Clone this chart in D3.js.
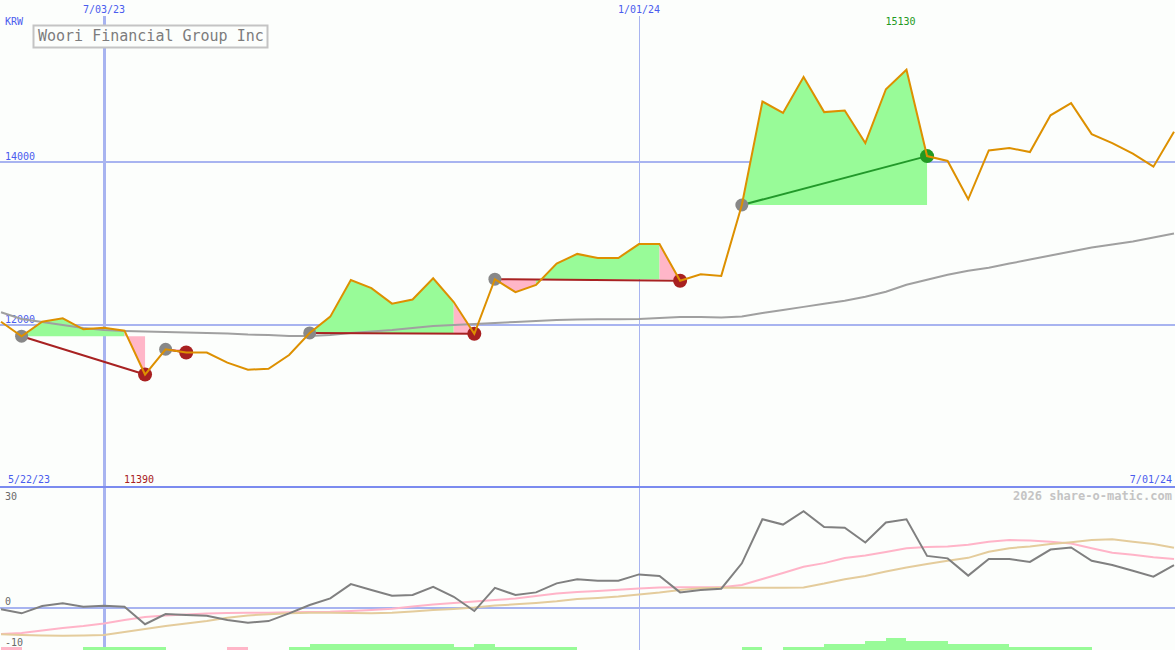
<!DOCTYPE html>
<html><head><meta charset="utf-8">
<script src="https://cdn.jsdelivr.net/npm/d3@7"></script>
<style>
html,body{margin:0;padding:0;background:#fcfefc;}
svg{display:block;}
text{font-family:"DejaVu Sans Mono","Liberation Mono",monospace;}
</style>
</head><body>
<svg id="chart" width="1175" height="650"></svg>
<script>
// ---------- DATA ----------
const dates = ["2023-05-29","2023-06-05","2023-06-12","2023-06-19","2023-06-26","2023-07-03","2023-07-10","2023-07-17","2023-07-24","2023-07-31",
"2023-08-07","2023-08-14","2023-08-21","2023-08-28","2023-09-04","2023-09-11","2023-09-18","2023-09-25","2023-10-02","2023-10-09",
"2023-10-16","2023-10-23","2023-10-30","2023-11-06","2023-11-13","2023-11-20","2023-11-27","2023-12-04","2023-12-11","2023-12-18",
"2023-12-25","2024-01-01","2024-01-08","2024-01-15","2024-01-22","2024-01-29","2024-02-05","2024-02-12","2024-02-19","2024-02-26",
"2024-03-04","2024-03-11","2024-03-18","2024-03-25","2024-04-01","2024-04-08","2024-04-15","2024-04-22","2024-04-29","2024-05-06",
"2024-05-13","2024-05-20","2024-05-27","2024-06-03","2024-06-10","2024-06-17","2024-06-24","2024-07-01"];

const closePrice = [12038,11860,12038,12080,11945,11964,11928,11390,11700,11660,
11660,11535,11450,11460,11630,11900,12100,12550,12450,12260,
12310,12570,12280,11890,12560,12400,12490,12750,12870,12820,
12820,12990,12990,12540,12620,12600,13470,14740,14600,15040,
14610,14630,14230,14890,15130,14070,14010,13540,14140,14170,
14120,14570,14720,14340,14230,14100,13940,14370];

const movingAvg = [12154,12072,12035,11998,11961,11936,11924,11917,11911,11905,
11899,11893,11880,11874,11862,11862,11874,11899,11917,11936,
11961,11985,11998,12010,12022,12035,12047,12059,12066,12068,
12068,12072,12084,12096,12096,12090,12103,12146,12183,12220,
12257,12294,12343,12405,12491,12553,12615,12664,12701,12751,
12800,12850,12899,12948,12985,13022,13072,13121];

const oscMain = [-0.45,-1.6,0.5,1.25,0.3,0.55,0.3,-4.7,-1.8,-2.1,
-2.3,-3.5,-4.25,-3.8,-1.6,0.75,2.65,6.7,5.0,3.4,
3.6,5.95,3.1,-0.95,5.65,3.6,4.35,6.9,8.05,7.65,
7.65,9.45,9.0,4.35,5.0,5.4,12.6,25.1,23.6,27.4,
22.9,22.7,18.5,24.2,25.1,14.7,14.0,9.1,13.8,13.8,
13.0,16.5,17.1,13.3,12.1,10.5,8.8,12.1];

const oscFast = [-7.45,-7.2,-6.45,-5.75,-5.2,-4.5,-3.5,-2.65,-2.2,-1.9,
-1.65,-1.5,-1.4,-1.4,-1.3,-1.2,-1.15,-0.95,-0.65,-0.3,
0.35,0.9,1.35,1.75,2.2,2.6,3.3,4.0,4.45,4.75,
5.1,5.45,5.7,5.8,5.8,5.8,6.45,8.15,9.85,11.6,
12.65,14.1,14.8,15.8,16.9,17.2,17.4,17.9,18.75,19.2,
19.1,18.75,18.2,16.9,15.6,15.05,14.35,13.8];

const oscSlow = [-7.55,-7.75,-7.9,-7.95,-7.9,-7.75,-6.9,-6.05,-5.2,-4.5,
-3.75,-2.85,-2.2,-1.85,-1.55,-1.4,-1.4,-1.5,-1.55,-1.45,
-1.1,-0.65,-0.35,0.05,0.6,0.95,1.35,1.8,2.45,2.75,
3.15,3.75,4.3,5.0,5.5,5.65,5.65,5.65,5.65,5.75,
6.85,8.1,9.0,10.25,11.4,12.4,13.35,14.15,15.9,16.9,
17.4,18.05,18.6,19.2,19.4,18.75,18.05,17.0];

const histLevel = [-1,0,0,0,1,1,1,1,0,0,
0,-1,0,0,1,2,2,2,2,2,
2,2,1,2,1,1,1,1,0,0,
0,0,0,0,0,0,1,0,1,1,
2,2,3,4,3,3,2,2,2,1,
1,1,1,0,0,0,0,0];

// trades: entry and exit week (indices into dates)
const tradeEntry = [1, 8, 15, 24, 36];
const tradeExit  = [7, 9, 23, 33, 45];

const priceTicks = [12000, 14000];
const dateTicks = ["2023-07-03", "2024-01-01"];
const dateTickWidth = [3, 1];
const oscTicks = [30, 0, -10];
const startLabel = "5/22/23";
const endLabel = "7/01/24";
const currency = "KRW";
const title = "Woori Financial Group Inc";
const watermark = "2026 share-o-matic.com";

// ---------- SETUP ----------
const W = 1175, H = 650;
const parse = d3.utcParse("%Y-%m-%d");
const fmt = d3.utcFormat("%-m/%d/%y");
const D = dates.map(parse);
const svg = d3.select("#chart");

const x = d3.scaleUtc().domain([D[0], D[D.length - 1]]).range([1, 1174]);
const y = d3.scaleLinear().domain([12000, 14000]).range([324.8, 161.8]);
const yo = d3.scaleLinear().domain([0, 30]).range([607.7, 502]);
const hh = d3.scaleLinear().domain([0, 4]).range([0, 12.4]);

const blueGrid = "#a8b4f0", blueText = "#4a5cee", sep = "#7b8bef";

svg.append("rect").attr("width", W).attr("height", H).attr("fill", "#fcfefc");

// vertical date grid
const vg = svg.append("g");
dateTicks.forEach((d, i) => {
  const xx = Math.round(x(parse(d)));
  vg.append("line").attr("x1", xx).attr("x2", xx).attr("y1", 16).attr("y2", H)
    .attr("stroke", blueGrid).attr("stroke-width", dateTickWidth[i]).attr("shape-rendering", "crispEdges");
  vg.append("text").attr("x", xx).attr("y", 13).attr("text-anchor", "middle")
    .attr("font-size", 10).attr("fill", blueText).text(fmt(parse(d)));
});

// horizontal price grid
priceTicks.forEach(p => {
  svg.append("line").attr("x1", 0).attr("x2", W).attr("y1", y(p)).attr("y2", y(p))
    .attr("stroke", blueGrid).attr("stroke-width", 2).attr("shape-rendering", "crispEdges");
  svg.append("text").attr("x", 5).attr("y", y(p) - 2).attr("font-size", 10)
    .attr("fill", blueText).text(p);
});
svg.append("text").attr("x", 5).attr("y", 25).attr("font-size", 10).attr("fill", blueText).text(currency);

// ---------- TRADE FILLS (runs of same colour merged) ----------
const fills = svg.append("g");
tradeEntry.forEach((e, t) => {
  const base = closePrice[e];
  let runStart = e, runUp = closePrice[e + 1] >= base;
  const flush = (a, b, up) => {
    const pts = [[x(D[a]), y(base)]];
    for (let k = a; k <= b; k++) pts.push([x(D[k]), y(closePrice[k])]);
    pts.push([x(D[b]), y(base)]);
    fills.append("path").attr("d", d3.line()(pts) + "Z")
      .attr("fill", up ? "#98fb98" : "#ffb6c8").attr("stroke", "none");
  };
  for (let i = e; i < tradeExit[t]; i++) {
    const up = closePrice[i + 1] >= base;
    if (up !== runUp) { flush(runStart, i, runUp); runStart = i; runUp = up; }
  }
  flush(runStart, tradeExit[t], runUp);
});

// moving average
svg.append("path").datum(movingAvg)
  .attr("d", d3.line().x((d, i) => x(D[i])).y(d => y(d)))
  .attr("fill", "none").attr("stroke", "#a0a0a0").attr("stroke-width", 2);

// trade lines
tradeEntry.forEach((e, t) => {
  const ex = tradeExit[t];
  const win = closePrice[ex] > closePrice[e];
  svg.append("line").attr("x1", x(D[e])).attr("y1", y(closePrice[e]))
    .attr("x2", x(D[ex])).attr("y2", y(closePrice[ex]))
    .attr("stroke", win ? "#22992a" : "#a82222").attr("stroke-width", 2);
});
// dots
tradeEntry.forEach((e, t) => {
  const ex = tradeExit[t];
  const win = closePrice[ex] > closePrice[e];
  svg.append("circle").attr("cx", x(D[e])).attr("cy", y(closePrice[e])).attr("r", 6.5).attr("fill", "#888888");
  svg.append("circle").attr("cx", x(D[ex])).attr("cy", y(closePrice[ex])).attr("r", 7)
    .attr("fill", win ? "#229922" : "#a82020");
});

// price line
svg.append("path").datum(closePrice)
  .attr("d", d3.line().x((d, i) => x(D[i])).y(d => y(d)))
  .attr("fill", "none").attr("stroke", "#dd9000").attr("stroke-width", 2).attr("stroke-linejoin", "miter");

// min / max labels
const iMax = d3.maxIndex(closePrice), iMin = d3.minIndex(closePrice);
svg.append("text").attr("x", x(D[iMax]) - 6).attr("y", 25).attr("text-anchor", "middle")
  .attr("font-size", 10).attr("fill", "#229922").text(closePrice[iMax]);
svg.append("text").attr("x", x(D[iMin]) - 6).attr("y", 483).attr("text-anchor", "middle")
  .attr("font-size", 10).attr("fill", "#a82020").text(closePrice[iMin]);

// title box
svg.append("rect").attr("x", 33.5).attr("y", 25.5).attr("width", 234).attr("height", 22)
  .attr("fill", "#fcfefc").attr("stroke", "#c4c4c4").attr("stroke-width", 2);
svg.append("text").attr("x", 38).attr("y", 41).attr("font-size", 15).attr("fill", "#7c7c7c").text(title);

// ---------- LOWER PANEL ----------
svg.append("line").attr("x1", 0).attr("x2", W).attr("y1", 487).attr("y2", 487)
  .attr("stroke", sep).attr("stroke-width", 2).attr("shape-rendering", "crispEdges");
svg.append("text").attr("x", 8).attr("y", 483).attr("font-size", 10).attr("fill", blueText).text(startLabel);
svg.append("text").attr("x", 1172).attr("y", 483).attr("text-anchor", "end").attr("font-size", 10).attr("fill", blueText).text(endLabel);
svg.append("text").attr("x", 1172).attr("y", 500).attr("text-anchor", "end").attr("font-size", 12)
  .attr("font-weight", "bold").attr("fill", "#c4c4c4").text(watermark);

svg.append("line").attr("x1", 0).attr("x2", W).attr("y1", yo(0)).attr("y2", yo(0))
  .attr("stroke", blueGrid).attr("stroke-width", 2).attr("shape-rendering", "crispEdges");
oscTicks.forEach(v => {
  const yy = v === 0 ? yo(v) - 3 : (v > 0 ? yo(v) - 2 : Math.min(yo(v) + 3, 646));
  svg.append("text").attr("x", 5).attr("y", yy).attr("font-size", 10).attr("fill", "#6a6a6a").text(v);
});

// histogram bars
histLevel.forEach((v, i) => {
  if (!v || i + 1 >= D.length) return;
  const h = hh(Math.abs(v));
  svg.append("rect").attr("x", Math.round(x(D[i]))).attr("width", Math.round(x(D[i + 1])) - Math.round(x(D[i])))
    .attr("y", H - h).attr("height", h).attr("fill", v > 0 ? "#98fb98" : "#ffb6c8")
    .attr("shape-rendering", "crispEdges");
});

const oline = d3.line().x((d, i) => x(D[i])).y(d => yo(d));
svg.append("path").datum(oscFast).attr("d", oline).attr("fill", "none").attr("stroke", "#ffb4c8").attr("stroke-width", 2);
svg.append("path").datum(oscSlow).attr("d", oline).attr("fill", "none").attr("stroke", "#e4cc9c").attr("stroke-width", 2);
svg.append("path").datum(oscMain).attr("d", oline).attr("fill", "none").attr("stroke", "#808080").attr("stroke-width", 2);
</script>
</body></html>
